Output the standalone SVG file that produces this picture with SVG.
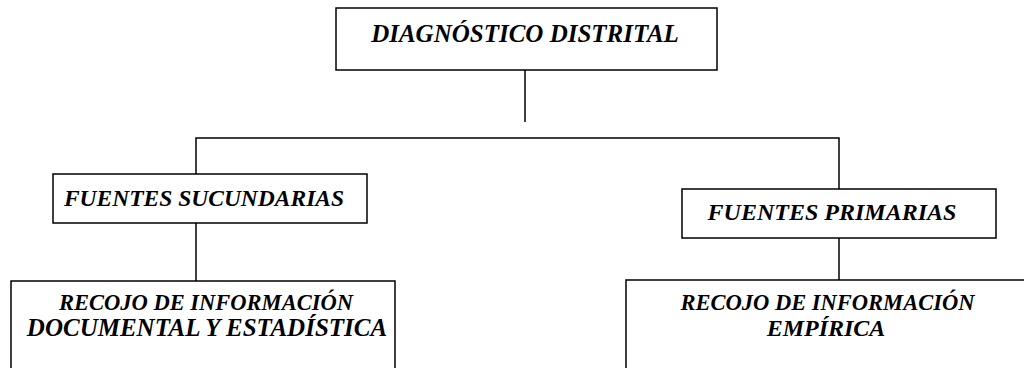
<svg xmlns="http://www.w3.org/2000/svg" width="1024" height="368" viewBox="0 0 1024 368">
<style>
.box{fill:#fff;stroke:#000;stroke-width:1.5}
.ln{fill:none;stroke:#000;stroke-width:1.5}
.t{font-family:'Liberation Serif','Times New Roman',serif;font-weight:bold;font-style:italic;font-size:24px;fill:#000;text-anchor:middle}
</style>
<rect width="1024" height="368" fill="#fff"/>
<g id="connectors">
<line class="ln" x1="525" y1="70" x2="525" y2="122"/>
<polyline class="ln" points="196,174 196,138 839,138 839,189"/>
<line class="ln" x1="196" y1="223" x2="196" y2="281"/>
<line class="ln" x1="839" y1="238" x2="839" y2="280"/>
</g>
<g id="n-diagnostico">
<rect class="box" x="336" y="8" width="381" height="62"/>
<text class="t" x="525" y="41.5" style="font-size:25px">DIAGNÓSTICO DISTRITAL</text>
</g>
<g id="n-secundarias">
<rect class="box" x="53" y="174" width="314" height="49"/>
<text class="t" x="204" y="206" style="font-size:23.5px">FUENTES SUCUNDARIAS</text>
</g>
<g id="n-primarias">
<rect class="box" x="682" y="189" width="314" height="49"/>
<text class="t" x="832" y="220">FUENTES PRIMARIAS</text>
</g>
<g id="n-documental">
<rect class="box" x="11" y="281" width="384" height="100"/>
<text class="t" x="206" y="310" style="font-size:22.5px">RECOJO DE INFORMACIÓN</text>
<text class="t" x="207" y="336" style="font-size:25px">DOCUMENTAL Y ESTADÍSTICA</text>
</g>
<g id="n-empirica">
<rect class="box" x="626" y="280" width="410" height="100"/>
<text class="t" x="827.5" y="310" style="font-size:22.5px">RECOJO DE INFORMACIÓN</text>
<text class="t" x="826" y="336">EMPÍRICA</text>
</g>
</svg>
